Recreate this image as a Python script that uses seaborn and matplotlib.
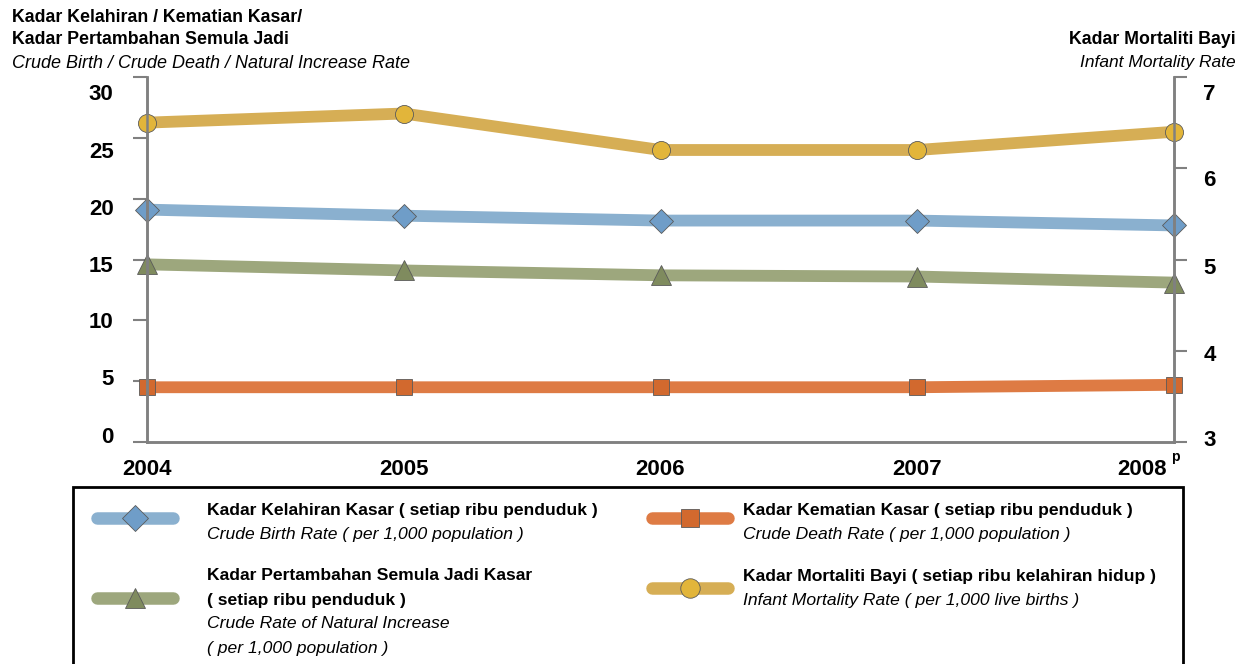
import matplotlib
matplotlib.use("Agg")
import matplotlib.pyplot as plt
import matplotlib.transforms as mtransforms
from matplotlib.lines import Line2D
from matplotlib.patches import Rectangle
import pandas as pd
import seaborn as sns

years = [2004, 2005, 2006, 2007, 2008]
crude_birth = [19.1, 18.6, 18.2, 18.2, 17.8]
crude_death = [4.5, 4.5, 4.5, 4.5, 4.7]
natural_increase = [14.6, 14.1, 13.7, 13.6, 13.1]
infant_mortality = [6.5, 6.6, 6.2, 6.2, 6.4]
left_ticks = [0, 5, 10, 15, 20, 25, 30]
right_ticks = [3, 4, 5, 6, 7]

# line colour, marker fill, marker
styles = {
    "birth": ("#8AB0CF", "#6F9DC8", "D"),
    "death": ("#DE7B44", "#D2692E", "s"),
    "natural": ("#9DA77D", "#7F8B5E", "^"),
    "infant": ("#D6AE55", "#E2B53A", "o"),
}
marker_sizes = {"birth": 12, "death": 12, "natural": 14, "infant": 13}

W, H = 1245, 664
sns.set_theme(style="white")
plt.rcParams["font.family"] = ["Liberation Sans", "DejaVu Sans"]
plt.rcParams["text.color"] = "black"

fig = plt.figure(figsize=(W / 100, H / 100), dpi=100)
ax = fig.add_axes([147 / W, 1 - 442 / H, (1174 - 147) / W, (442 - 77) / H])
ax2 = ax.twinx()

df = pd.DataFrame({
    "year": years,
    "birth": crude_birth,
    "death": crude_death,
    "natural": natural_increase,
    "infant": infant_mortality,
})


def draw(axis, key):
    line, face, marker = styles[key]
    sns.lineplot(data=df, x="year", y=key, ax=axis, color=line, linewidth=8.5,
                 marker=marker, markersize=marker_sizes[key], markerfacecolor=face,
                 markeredgecolor="#5a5a5a", markeredgewidth=0.6, clip_on=False,
                 solid_capstyle="butt")


for key in ["death", "natural", "birth"]:
    draw(ax, key)
draw(ax2, "infant")

ax.set_xlim(2004, 2008)
ax.set_ylim(0, 30)
ax2.set_ylim(3, 7)
ax.set_yticks(left_ticks)
ax2.set_yticks(right_ticks)
ax.set_xticks(years)
ax.set_xticklabels([str(y) for y in years])
ax.set_xlabel("")
ax.set_ylabel("")
ax2.set_ylabel("")

for a in (ax, ax2):
    a.spines["top"].set_visible(False)
    for side in ("left", "right", "bottom"):
        a.spines[side].set_color("#808080")
        a.spines[side].set_linewidth(1.8)
    a.set_facecolor("none")

ax.tick_params(axis="y", left=True, length=10, width=1.5, color="#808080", pad=14,
               labelsize=16)
ax2.tick_params(axis="y", right=True, length=9, width=1.5, color="#808080", pad=12,
                labelsize=16)
ax.tick_params(axis="x", bottom=False, pad=6, labelsize=16)
for lbl in ax.get_yticklabels() + ax2.get_yticklabels() + ax.get_xticklabels():
    lbl.set_fontweight("bold")
    lbl.set_color("black")

# tick labels in the original sit on a slightly compressed scale
def nudge(labels, shifts_px):
    for lbl, dy in zip(labels, shifts_px):
        lbl.set_transform(lbl.get_transform() +
                          mtransforms.ScaledTranslation(0, -dy / 100, fig.dpi_scale_trans))


nudge(ax.get_yticklabels(), [-7, -4, 0, 4, 8, 12, 15])
nudge(ax2.get_yticklabels(), [-4, 2, 6, 10, 15])

# shift the last year label left to leave room for the superscript "p"
last = ax.get_xticklabels()[-1]
last.set_transform(last.get_transform() + mtransforms.ScaledTranslation(-0.32, 0, fig.dpi_scale_trans))
ax.annotate("p", xy=(2008, 0), xycoords=("data", "axes fraction"), xytext=(-2, -11),
            textcoords="offset points", fontsize=10, fontweight="bold", ha="left", va="center")

# axis headers
fig.text(12 / W, 1 - 18 / H, "Kadar Kelahiran / Kematian Kasar/", fontsize=12.8,
         fontweight="bold", va="center")
fig.text(12 / W, 1 - 40 / H, "Kadar Pertambahan Semula Jadi", fontsize=12.8,
         fontweight="bold", va="center")
fig.text(12 / W, 1 - 64 / H, "Crude Birth / Crude Death / Natural Increase Rate",
         fontsize=13, style="italic", va="center")
fig.text(1236 / W, 1 - 40 / H, "Kadar Mortaliti Bayi", fontsize=12.8,
         fontweight="bold", va="center", ha="right")
fig.text(1236 / W, 1 - 63 / H, "Infant Mortality Rate", fontsize=12.5,
         style="italic", va="center", ha="right")

# legend box
fig.add_artist(Rectangle((73 / W, -0.02), (1183 - 73) / W, (H - 487) / H + 0.02,
                         transform=fig.transFigure, fill=False, edgecolor="black",
                         linewidth=2))

legend_items = [
    ("birth", 97, 518, 207, 511, ["Kadar Kelahiran Kasar ( setiap ribu penduduk )"],
     ["Crude Birth Rate ( per 1,000 population )"]),
    ("natural", 97, 598, 207, 576, ["Kadar Pertambahan Semula Jadi Kasar", "( setiap ribu penduduk )"],
     ["Crude Rate of Natural Increase", "( per 1,000 population )"]),
    ("death", 652, 518, 743, 511, ["Kadar Kematian Kasar ( setiap ribu penduduk )"],
     ["Crude Death Rate ( per 1,000 population )"]),
    ("infant", 652, 588, 743, 576, ["Kadar Mortaliti Bayi ( setiap ribu kelahiran hidup )"],
     ["Infant Mortality Rate ( per 1,000 live births )"]),
]
for key, sx, sy, tx, ty, bold_lines, italic_lines in legend_items:
    line, face, marker = styles[key]
    fig.add_artist(Line2D([sx / W, (sx + 76) / W], [1 - sy / H, 1 - sy / H],
                          transform=fig.transFigure, color=line, linewidth=9,
                          solid_capstyle="round"))
    fig.add_artist(Line2D([(sx + 38) / W], [1 - sy / H], transform=fig.transFigure,
                          marker=marker, markersize=marker_sizes[key] + 1,
                          markerfacecolor=face, markeredgecolor="#5a5a5a",
                          markeredgewidth=0.6, linestyle="none"))
    for t in bold_lines:
        fig.text(tx / W, 1 - ty / H, t, fontsize=12.6, fontweight="bold", va="center")
        ty += 24
    for t in italic_lines:
        fig.text(tx / W, 1 - ty / H, t, fontsize=12.6, style="italic", va="center")
        ty += 24

fig.savefig("out.png", dpi=100)
